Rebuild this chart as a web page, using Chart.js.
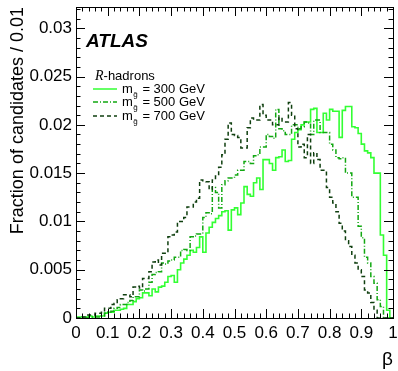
<!DOCTYPE html>
<html>
<head>
<meta charset="utf-8">
<script src="https://cdn.jsdelivr.net/npm/chart.js@4.4.1/dist/chart.umd.min.js"></script>
<style>
html, body { margin: 0; padding: 0; background: #fff; }
#wrap { width: 398px; height: 371px; }
</style>
</head>
<body>
<div id="wrap"><canvas id="betaChart" width="398" height="371"></canvas></div>
<script>
// histogram: 100 bins of beta, width 0.01
const binWidth = 0.01;

// fraction of candidates per bin
const frac300 = [
  0.0001, 0.0001, 0.0001, 0.0001, 0.0002, 0.0001, 0.0002, 0.0002, 0.0002, 0.0005,
  0.0006, 0.0006, 0.0008, 0.0008, 0.0009, 0.0010, 0.0014, 0.0014, 0.0017, 0.0020,
  0.0021, 0.0026, 0.0026, 0.0023, 0.0030, 0.0027, 0.0032, 0.0033, 0.0037, 0.0043,
  0.0044, 0.0037, 0.0050, 0.0057, 0.0061, 0.0065, 0.0070, 0.0068, 0.0073, 0.0084,
  0.0068, 0.0088, 0.0094, 0.0099, 0.0103, 0.0106, 0.0110, 0.0111, 0.0091, 0.0112,
  0.0114, 0.0107, 0.0119, 0.0136, 0.0128, 0.0126, 0.0140, 0.0145, 0.0133, 0.0164,
  0.0164, 0.0160, 0.0153, 0.0166, 0.0167, 0.0174, 0.0162, 0.0163, 0.0185, 0.0192,
  0.0195, 0.0200, 0.0203, 0.0203, 0.0216, 0.0217, 0.0192, 0.0192, 0.0212, 0.0205,
  0.0216, 0.0214, 0.0214, 0.0187, 0.0215, 0.0219, 0.0219, 0.0198, 0.0197, 0.0191,
  0.0180, 0.0173, 0.0171, 0.0166, 0.0150, 0.0150, 0.0086, 0.0065, 0.0008, 0.0000
];
const frac500 = [
  0.0000, 0.0000, 0.0000, 0.0000, 0.0001, 0.0001, 0.0001, 0.0001, 0.0002, 0.0005,
  0.0006, 0.0007, 0.0010, 0.0011, 0.0014, 0.0014, 0.0016, 0.0018, 0.0022, 0.0022,
  0.0029, 0.0028, 0.0030, 0.0037, 0.0045, 0.0047, 0.0048, 0.0057, 0.0056, 0.0059,
  0.0060, 0.0063, 0.0063, 0.0070, 0.0071, 0.0070, 0.0084, 0.0085, 0.0087, 0.0087,
  0.0104, 0.0109, 0.0108, 0.0135, 0.0130, 0.0114, 0.0138, 0.0142, 0.0145, 0.0145,
  0.0148, 0.0153, 0.0153, 0.0162, 0.0162, 0.0160, 0.0168, 0.0169, 0.0177, 0.0177,
  0.0190, 0.0188, 0.0186, 0.0216, 0.0196, 0.0194, 0.0190, 0.0190, 0.0200, 0.0200,
  0.0196, 0.0198, 0.0203, 0.0202, 0.0190, 0.0205, 0.0205, 0.0192, 0.0192, 0.0192,
  0.0180, 0.0174, 0.0166, 0.0165, 0.0166, 0.0150, 0.0150, 0.0125, 0.0125, 0.0095,
  0.0083, 0.0063, 0.0057, 0.0043, 0.0036, 0.0019, 0.0012, 0.0000, 0.0000, 0.0000
];
const frac700 = [
  0.0000, 0.0000, 0.0001, 0.0003, 0.0003, 0.0003, 0.0005, 0.0005, 0.0006, 0.0010,
  0.0010, 0.0014, 0.0015, 0.0019, 0.0020, 0.0024, 0.0024, 0.0022, 0.0032, 0.0033,
  0.0031, 0.0041, 0.0041, 0.0048, 0.0058, 0.0060, 0.0055, 0.0067, 0.0067, 0.0084,
  0.0086, 0.0089, 0.0100, 0.0100, 0.0104, 0.0115, 0.0115, 0.0120, 0.0124, 0.0143,
  0.0142, 0.0141, 0.0133, 0.0143, 0.0147, 0.0156, 0.0169, 0.0185, 0.0202, 0.0190,
  0.0189, 0.0187, 0.0176, 0.0176, 0.0197, 0.0207, 0.0205, 0.0205, 0.0221, 0.0210,
  0.0205, 0.0205, 0.0200, 0.0200, 0.0208, 0.0203, 0.0203, 0.0223, 0.0210, 0.0196,
  0.0177, 0.0180, 0.0166, 0.0190, 0.0160, 0.0171, 0.0164, 0.0153, 0.0153, 0.0135,
  0.0125, 0.0119, 0.0110, 0.0098, 0.0090, 0.0080, 0.0074, 0.0065, 0.0057, 0.0050,
  0.0043, 0.0029, 0.0026, 0.0016, 0.0008, 0.0000, 0.0000, 0.0000, 0.0000, 0.0000
];

const seriesNames = ['300', '500', '700'];
const xTickValues = [0, 0.1, 0.2, 0.3, 0.4, 0.5, 0.6, 0.7, 0.8, 0.9, 1];
const xTickLabels = ['0', '0.1', '0.2', '0.3', '0.4', '0.5', '0.6', '0.7', '0.8', '0.9', '1'];
const yTickValues = [0, 0.005, 0.01, 0.015, 0.02, 0.025, 0.03];
const yTickLabels = ['0', '0.005', '0.01', '0.015', '0.02', '0.025', '0.03'];

const FONT = '"Liberation Sans", Arial, Helvetica, sans-serif';
const colors = ['#33ff33', '#12a812', '#0f3f0f'];
const dashes = [[], [5, 2, 1, 2], [4, 3]];

// step outline: left bin edges + closing point at beta = 1
function toSteps(values) {
  const pts = values.map((v, i) => ({ x: i * binWidth, y: v }));
  pts.push({ x: values.length * binWidth, y: values[values.length - 1] });
  return pts;
}

// inward ticks on all four sides plus the frame
const frameTicks = {
  id: 'frameTicks',
  afterDatasetsDraw(chart) {
    const { ctx, chartArea: a, scales: { x, y } } = chart;
    ctx.save();
    ctx.strokeStyle = '#000';
    ctx.lineWidth = 1;
    ctx.beginPath();
    for (let k = 0; k <= 50; k++) {
      const v = k * 0.02;
      const px = Math.round(x.getPixelForValue(v)) + 0.5;
      const len = (k % 5 === 0) ? 9 : 4.5;
      ctx.moveTo(px, a.bottom); ctx.lineTo(px, a.bottom - len);
      ctx.moveTo(px, a.top); ctx.lineTo(px, a.top + len);
    }
    for (let k = 0; k <= 32; k++) {
      const v = k * 0.001;
      const py = Math.round(y.getPixelForValue(v)) + 0.5;
      const len = (k % 5 === 0) ? 9 : 4.5;
      ctx.moveTo(a.left, py); ctx.lineTo(a.left + len, py);
      ctx.moveTo(a.right, py); ctx.lineTo(a.right - len, py);
    }
    ctx.stroke();
    ctx.strokeRect(Math.round(a.left) + 0.5, Math.round(a.top) + 0.5,
      Math.round(a.right - a.left), Math.round(a.bottom - a.top));
    ctx.restore();
  }
};

// ATLAS label and legend with subscript gluino
const legendBox = {
  id: 'legendBox',
  afterDraw(chart) {
    const { ctx } = chart;
    ctx.save();
    ctx.fillStyle = '#000';
    ctx.textBaseline = 'alphabetic';
    ctx.font = 'italic bold 19px ' + FONT;
    ctx.fillText('ATLAS', 86, 47);

    ctx.font = 'italic 14px "Liberation Serif", "Times New Roman", serif';
    ctx.fillText('R', 95, 80);
    let w = ctx.measureText('R').width;
    ctx.font = '13px ' + FONT;
    ctx.fillText('-hadrons', 95 + w, 80);

    const rows = [89, 102, 116];
    seriesNames.forEach((m, i) => {
      const yy = rows[i];
      ctx.strokeStyle = colors[i];
      ctx.lineWidth = 1.5;
      ctx.setLineDash(dashes[i]);
      ctx.beginPath();
      ctx.moveTo(93, yy);
      ctx.lineTo(117, yy);
      ctx.stroke();
      ctx.setLineDash([]);

      ctx.font = '13px ' + FONT;
      ctx.fillText('m', 122, yy + 4);
      const mw = ctx.measureText('m').width;
      ctx.font = '8px ' + FONT;
      ctx.fillText('g\u0303', 122 + mw + 0.5, yy + 8);
      const gw = ctx.measureText('g').width;
      ctx.font = '13px ' + FONT;
      ctx.fillText(' = ' + m + ' GeV', 122 + mw + gw + 1.5, yy + 4);
    });
    ctx.restore();
  }
};

const datasets = [frac300, frac500, frac700].map((vals, i) => ({
  label: 'm = ' + seriesNames[i] + ' GeV',
  data: toSteps(vals),
  borderColor: colors[i],
  borderWidth: i === 0 ? 1.6 : 1.5,
  borderDash: dashes[i],
  stepped: true,
  pointRadius: 0,
  fill: false,
  order: 3 - i
}));

new Chart(document.getElementById('betaChart'), {
  type: 'line',
  data: { datasets },
  options: {
    responsive: false,
    animation: false,
    devicePixelRatio: 1,
    layout: { padding: { top: 7, right: 5, left: 0, bottom: 0 } },
    plugins: { legend: { display: false }, tooltip: { enabled: false } },
    scales: {
      x: {
        type: 'linear',
        min: 0,
        max: 1,
        grid: { display: false, drawTicks: false },
        border: { display: false },
        afterBuildTicks: s => { s.ticks = xTickValues.map(v => ({ value: v })); },
        afterFit: s => { s.height = 53; s.paddingLeft = 0; s.paddingRight = 0; },
        ticks: {
          autoSkip: false,
          maxRotation: 0,
          padding: 5,
          color: '#000',
          font: { family: FONT, size: 17 },
          callback: (v, i) => xTickLabels[i]
        },
        title: {
          display: true,
          text: '\u03b2',
          align: 'end',
          color: '#000',
          font: { family: FONT, size: 19 },
          padding: { top: 0, bottom: 0 }
        }
      },
      y: {
        type: 'linear',
        min: 0,
        max: 0.0322,
        grid: { display: false, drawTicks: false },
        border: { display: false },
        afterBuildTicks: s => { s.ticks = yTickValues.map(v => ({ value: v })); },
        afterFit: s => { s.width = 76; s.paddingTop = 0; s.paddingBottom = 0; },
        ticks: {
          padding: 4,
          color: '#000',
          font: { family: FONT, size: 17 },
          callback: (v, i) => yTickLabels[i]
        },
        title: {
          display: true,
          text: 'Fraction of candidates / 0.01',
          align: 'end',
          color: '#000',
          font: { family: FONT, size: 18 },
          padding: { top: 7, bottom: 0 }
        }
      }
    }
  },
  plugins: [frameTicks, legendBox]
});
</script>
</body>
</html>
